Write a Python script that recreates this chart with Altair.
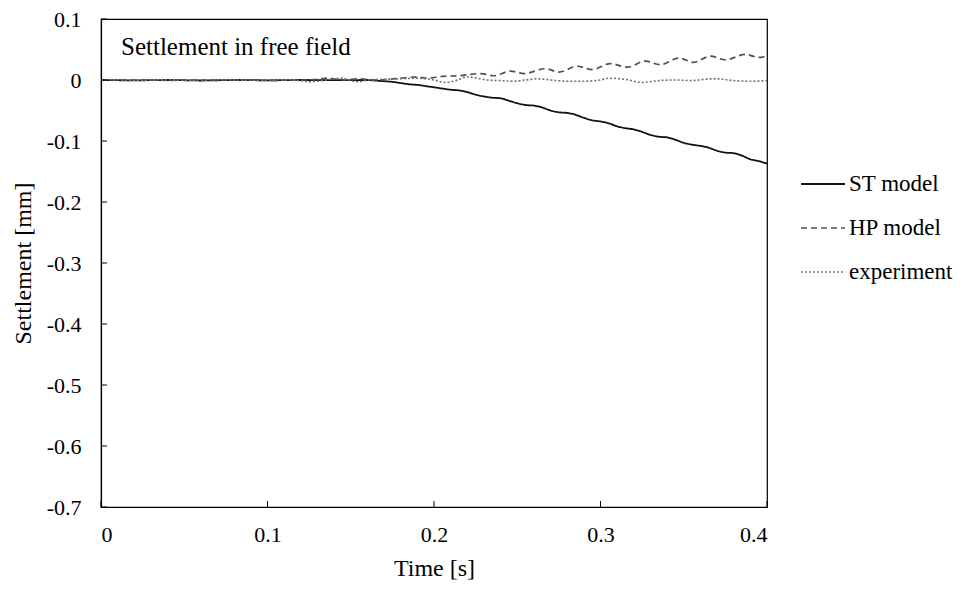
import altair as alt
import pandas as pd

# ---------------- data ----------------
series_names = ["ST model", "HP model", "experiment"]

st_t = [0.0, 0.02, 0.04, 0.06, 0.08, 0.10, 0.12, 0.14, 0.16, 0.165, 0.17, 0.175, 0.18,
        0.185, 0.19, 0.195, 0.20, 0.205, 0.21, 0.215, 0.22, 0.225, 0.23, 0.235, 0.24,
        0.245, 0.25, 0.255, 0.26, 0.265, 0.27, 0.275, 0.28, 0.285, 0.29, 0.295, 0.30,
        0.305, 0.31, 0.315, 0.32, 0.325, 0.33, 0.335, 0.34, 0.345, 0.35, 0.355, 0.36,
        0.365, 0.37, 0.375, 0.38, 0.385, 0.39, 0.395, 0.40]
st_v = [0.0, -0.0005, 0.0, -0.0008, 0.0, -0.0005, 0.0, -0.0003, 0.0, -0.001, -0.002, -0.003, -0.005,
        -0.007, -0.008, -0.010, -0.012, -0.014, -0.016, -0.017, -0.020, -0.024, -0.027, -0.029, -0.030,
        -0.034, -0.038, -0.041, -0.042, -0.045, -0.050, -0.053, -0.054, -0.057, -0.062, -0.066, -0.068,
        -0.071, -0.076, -0.079, -0.081, -0.085, -0.090, -0.093, -0.094, -0.098, -0.103, -0.106, -0.108,
        -0.111, -0.116, -0.119, -0.120, -0.124, -0.130, -0.133, -0.137]

hp_t = [0.0, 0.02, 0.04, 0.06, 0.08, 0.10, 0.12, 0.13, 0.136, 0.145, 0.155, 0.165, 0.172,
        0.18, 0.19, 0.196, 0.205, 0.215, 0.228, 0.236, 0.246, 0.254, 0.267, 0.275, 0.286,
        0.295, 0.306, 0.316, 0.327, 0.336, 0.347, 0.356, 0.366, 0.375, 0.387, 0.395, 0.40]
hp_v = [0.0, 0.0, -0.0005, 0.0, 0.0, -0.0005, 0.0, 0.001, 0.003, 0.0, 0.002, 0.0, 0.001,
        0.003, 0.005, 0.003, 0.006, 0.007, 0.0105, 0.007, 0.0145, 0.0105, 0.0185, 0.013, 0.0225,
        0.017, 0.027, 0.021, 0.031, 0.025, 0.036, 0.029, 0.039, 0.033, 0.042, 0.037, 0.039]

exp_t = [0.0, 0.01, 0.02, 0.03, 0.04, 0.05, 0.06, 0.07, 0.08, 0.09, 0.10, 0.11, 0.12,
         0.125, 0.13, 0.14, 0.145, 0.15, 0.155, 0.16, 0.17, 0.18, 0.19, 0.195, 0.20,
         0.207, 0.213, 0.22, 0.226, 0.232, 0.24, 0.248, 0.255, 0.262, 0.27, 0.28, 0.29,
         0.30, 0.305, 0.315, 0.325, 0.335, 0.345, 0.355, 0.362, 0.37, 0.38, 0.39, 0.40]
exp_v = [0.0, 0.0005, -0.0005, 0.0, 0.0005, -0.0005, 0.0, 0.0005, 0.0, -0.0005, 0.0, 0.0005, -0.001,
         -0.003, -0.002, 0.002, 0.003, -0.001, -0.003, 0.0, 0.001, 0.002, 0.003, 0.002, 0.0,
         -0.004, -0.001, 0.005, 0.003, 0.0, -0.001, -0.002, 0.0, 0.002, 0.0, -0.002, -0.002,
         0.0, 0.003, 0.001, -0.004, -0.001, 0.0, -0.001, 0.001, 0.002, -0.001, -0.002, -0.001]

x_ticks = [0.0, 0.1, 0.2, 0.3, 0.4]
y_ticks = [0.1, 0.0, -0.1, -0.2, -0.3, -0.4, -0.5, -0.6, -0.7]

# ---------------- build table ----------------
rows = []
for name, ts, vs in [(series_names[0], st_t, st_v),
                     (series_names[1], hp_t, hp_v),
                     (series_names[2], exp_t, exp_v)]:
    for i, (t, v) in enumerate(zip(ts, vs)):
        rows.append({"series": name, "t": t, "v": v, "order": i})
df = pd.DataFrame(rows)

FONT = "Liberation Serif"
W, H = 666, 488

x_scale = alt.Scale(domain=[0, 0.4], nice=False, zero=False)
y_scale = alt.Scale(domain=[-0.7, 0.1], nice=False, zero=False)

legend = alt.Legend(
    title=None, orient="none", legendX=699, legendY=142,
    symbolType="stroke", symbolSize=1936, symbolStrokeWidth=1.5,
    labelFont=FONT, labelFontSize=23, labelColor="black",
    labelOffset=3, rowPadding=9,
)

lines = alt.Chart(df).mark_line(interpolate="monotone", clip=True).encode(
    x=alt.X("t:Q", scale=x_scale,
            axis=alt.Axis(values=x_ticks, title="Time [s]", ticks=False, tickSize=0,
                          grid=False, labelPadding=17, titlePadding=11,
                          labelExpr="datum.value == 0 ? '0' : format(datum.value, '.1f')")),
    y=alt.Y("v:Q", scale=y_scale,
            axis=alt.Axis(values=y_ticks, title="Settlement [mm]", ticks=False, tickSize=0,
                          grid=False, labelPadding=20, titlePadding=11,
                          labelExpr="datum.value == 0 ? '0' : (datum.value < 0 ? '-' : '') + format(abs(datum.value), '.1f')")),
    color=alt.Color("series:N",
                    scale=alt.Scale(domain=series_names, range=["#111111", "#505050", "#707070"]),
                    legend=legend),
    strokeDash=alt.StrokeDash("series:N",
                              scale=alt.Scale(domain=series_names, range=[[1, 0], [6, 4], [2, 2]]),
                              legend=legend),
    strokeWidth=alt.StrokeWidth("series:N",
                                scale=alt.Scale(domain=series_names, range=[1.8, 1.6, 1.4]),
                                legend=None),
    order="order:Q",
)

ytick_df = pd.DataFrame({"v": y_ticks})
ytick = alt.Chart(ytick_df).mark_rule(color="black", strokeWidth=1).encode(
    y=alt.Y("v:Q", scale=y_scale),
    x=alt.value(0), x2=alt.value(6),
)

xtick_df = pd.DataFrame({"t": x_ticks})
xtick = alt.Chart(xtick_df).mark_rule(color="black", strokeWidth=1).encode(
    x=alt.X("t:Q", scale=x_scale),
    y=alt.value(H), y2=alt.value(H - 6),
)

label_df = pd.DataFrame({"label": ["Settlement  in free field"]})
label = alt.Chart(label_df).mark_text(
    align="left", baseline="alphabetic", font=FONT, fontSize=25, color="black"
).encode(x=alt.value(20), y=alt.value(36), text="label:N")

chart = alt.layer(lines, ytick, xtick, label).properties(
    width=W, height=H,
    autosize=alt.AutoSizeParams(type="none"),
    padding={"left": 93, "top": 11, "right": 203, "bottom": 73},
).configure_view(
    stroke="black", strokeWidth=1.2
).configure_axis(
    domainColor="black", domainWidth=1.2,
    labelFont=FONT, labelFontSize=22, labelColor="black",
    titleFont=FONT, titleFontSize=24, titleFontWeight="normal", titleColor="black",
)

chart.save("out.html", embed_options={"renderer": "svg", "actions": False})
